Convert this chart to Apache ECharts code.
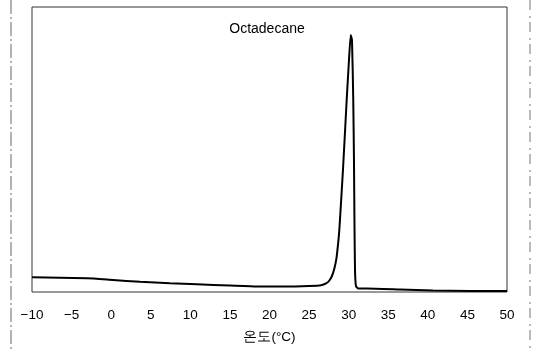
<!DOCTYPE html>
<html>
<head>
<meta charset="utf-8">
<script src="https://cdn.jsdelivr.net/npm/echarts@6/dist/echarts.min.js"></script>
<style>
html,body{margin:0;padding:0;background:#fff;}
#chart{width:534px;height:350px;}
</style>
</head>
<body>
<div id="chart"></div>
<script>
const chartTitle = 'Octadecane';
const xAxisName = '온도(°C)';
const xTicks = [-10, -5, 0, 5, 10, 15, 20, 25, 30, 35, 40, 45, 50];
const temperature = [-10, -3.05, 0.23, 3.64, 7.43, 10.84, 15.01, 18.42, 22.59, 26.0, 26.63, 27.14, 27.51, 27.89, 28.21, 28.46, 28.65, 28.8, 28.9, 29.28, 29.75, 30.04, 30.26, 30.42, 30.58, 30.67, 30.73, 30.8, 30.92, 31.18, 32.31, 36.48, 40.65, 45.32, 50.0];
const heatFlow = [5.2, 4.8, 4.2, 3.6, 3.05, 2.7, 2.28, 1.93, 1.93, 2.21, 2.46, 3.0, 3.86, 5.61, 8.42, 11.9, 16.5, 21.0, 25.3, 42.8, 67.4, 81.4, 90.2, 88.4, 67.4, 46.3, 25.3, 7.7, 2.1, 1.23, 1.23, 0.88, 0.53, 0.35, 0.35];

const chart = echarts.init(document.getElementById('chart'), null, {renderer: 'canvas'});
const fontFamily = '"Liberation Sans", Arial, sans-serif';
chart.setOption({
  animation: false,
  backgroundColor: '#fff',
  title: {
    text: chartTitle,
    left: 'center',
    top: 17,
    textStyle: {fontFamily: fontFamily, fontSize: 14, fontWeight: 'normal', color: '#000'}
  },
  grid: {
    left: 32, right: 27, top: 7, bottom: 58,
    show: true, borderColor: '#333', borderWidth: 1, backgroundColor: 'transparent'
  },
  xAxis: {
    type: 'value', min: xTicks[0], max: xTicks[xTicks.length - 1], interval: 5,
    name: xAxisName, nameLocation: 'middle', nameGap: 38,
    nameTextStyle: {fontFamily: fontFamily, fontSize: 13.5, color: '#000'},
    axisLine: {show: false}, axisTick: {show: false}, splitLine: {show: false},
    axisLabel: {fontFamily: fontFamily, fontSize: 13.5, color: '#000', margin: 16,
      formatter: v => (v < 0 ? '\u2212' + Math.abs(v) : String(v))}
  },
  yAxis: {
    type: 'value', min: 0, max: 100,
    axisLine: {show: false}, axisTick: {show: false}, splitLine: {show: false}, axisLabel: {show: false}
  },
  graphic: [
    {type: 'line', shape: {x1: 11, y1: 0, x2: 11, y2: 350}, style: {stroke: '#666', lineWidth: 1, lineDash: [14, 3, 2, 3]}},
    {type: 'line', shape: {x1: 530, y1: 0, x2: 530, y2: 350}, style: {stroke: '#777', lineWidth: 1, lineDash: [10, 6, 2, 4]}}
  ],
  series: [{
    type: 'line',
    data: temperature.map((t, i) => [t, heatFlow[i]]),
    showSymbol: false,
    smooth: 0.15,
    lineStyle: {color: '#000', width: 2}
  }]
});
</script>
</body>
</html>
